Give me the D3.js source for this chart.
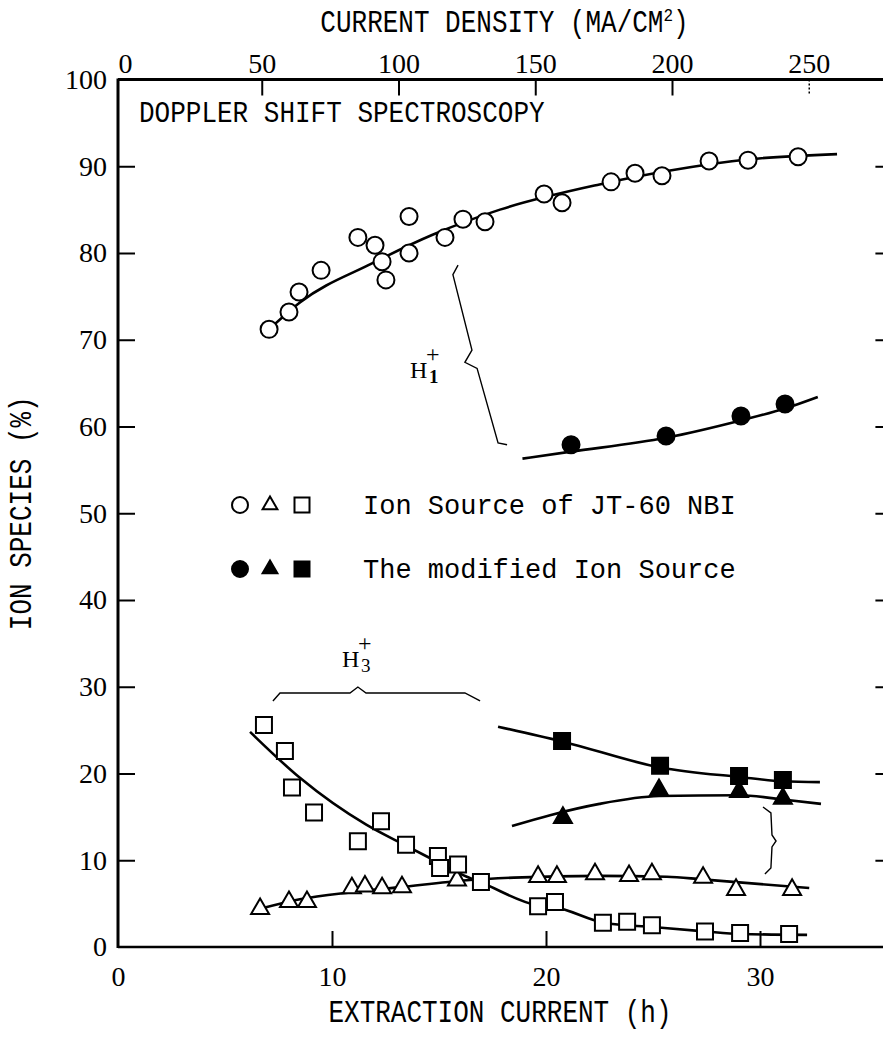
<!DOCTYPE html>
<html><head><meta charset="utf-8">
<script src="https://cdn.jsdelivr.net/npm/d3@7"></script>
<style>
html,body{margin:0;padding:0;background:#fff;}
svg{display:block;background:#fff;}
</style></head><body>
<svg id="chart" width="883" height="1043"></svg>
<script>
// ---- Measured points: extraction current (A) vs ion species fraction (%) ----
// H1+ , original JT-60 NBI ion source (open circles)
const h1OrigX = [7.06, 7.99, 8.46, 9.49, 11.21, 12.01, 12.34, 12.52, 13.60, 13.60, 15.28, 16.12, 17.15, 19.91, 20.75, 23.04, 24.16, 25.42, 27.62, 29.44, 31.78];
const h1OrigY = [71.2, 73.2, 75.5, 78.0, 81.8, 80.9, 79.0, 76.9, 80.0, 84.2, 81.8, 83.9, 83.6, 86.8, 85.8, 88.2, 89.2, 88.9, 90.6, 90.7, 91.1];
// H2+ , original source (open triangles)
const h2OrigX = [6.64, 7.99, 8.83, 10.93, 11.54, 12.34, 13.27, 15.84, 19.63, 20.51, 22.29, 23.88, 24.95, 27.34, 28.88, 31.50];
const h2OrigY = [4.4, 5.2, 5.2, 6.8, 7.0, 6.8, 6.9, 7.7, 8.1, 8.1, 8.4, 8.2, 8.4, 8.0, 6.6, 6.6];
// H3+ , original source (open squares)
const h3OrigX = [6.82, 7.80, 8.13, 9.16, 11.21, 12.29, 13.46, 14.95, 15.05, 15.89, 16.96, 19.63, 20.42, 22.66, 23.79, 24.95, 27.43, 29.07, 31.36];
const h3OrigY = [25.6, 22.6, 18.4, 15.5, 12.2, 14.5, 11.8, 10.5, 9.1, 9.5, 7.5, 4.7, 5.2, 2.8, 2.9, 2.5, 1.8, 1.6, 1.5];
// Modified ion source (filled markers)
const h1ModX = [21.17, 25.61, 29.11, 31.17];
const h1ModY = [57.9, 58.9, 61.2, 62.6];
const h2ModX = [20.79, 25.28, 29.02, 31.07];
const h2ModY = [14.9, 18.1, 17.9, 17.1];
const h3ModX = [20.75, 25.33, 29.02, 31.07];
const h3ModY = [23.75, 20.9, 19.7, 19.25];

// ---- Hand-drawn trend curves ----
const h1OrigFit = [[7.06,71.2],[8.5,74.3],[11.87,78.8],[14.7,82.1],[17.85,85.0],[22.5,87.9],[25.8,89.5],[29.5,90.8],[33.6,91.4]];
const h2OrigFit = [[6.64,4.4],[8.5,5.5],[10.84,6.3],[13.18,6.9],[16.3,7.7],[18.5,8.0],[22.5,8.2],[25.65,8.1],[27.3,7.8],[32.3,6.8]];
const h3OrigFit = [[6.17,24.8],[8.5,19.5],[11.6,14.1],[13.2,12.0],[14.7,10.1],[16.3,8.1],[17.0,7.4],[19.6,4.8],[20.4,4.6],[22.7,2.8],[25.0,2.3],[27.4,1.8],[29.1,1.5],[32.2,1.4]];
const h1ModFit = [[18.9,56.3],[21.17,57.1],[25.6,58.7],[29.1,60.7],[31.2,62.1],[32.7,63.4]];
const h2ModFit = [[18.41,13.95],[20.19,15.2],[22.5,16.5],[25.28,17.4],[29.02,17.5],[31.07,17.0],[32.85,16.5]];
const h3ModFit = [[17.76,25.4],[20.75,23.7],[25.33,20.7],[29.02,19.6],[31.07,19.1],[32.8,19.0]];

// ---- Axis ticks ----
const bottomTicks = [0, 10, 20, 30];
const leftTicks = [0, 10, 20, 30, 40, 50, 60, 70, 80, 90, 100];
const rightTicks = [10, 20, 30, 40, 50, 60, 70, 80, 90];
const topTicks = [0, 50, 100, 150, 200, 250];

// ---- Annotation braces (data units) ----
const braceH1 = [[15.89,78.6],[15.65,77.5],[16.54,68.8],[16.21,67.4],[16.78,66.7],[17.76,58.1],[18.18,57.9]];
const braceH3 = [[7.24,28.36],[7.57,29.28],[10.84,29.28],[11.21,29.97],[11.59,29.28],[16.21,29.28],[16.92,28.36]];
const braceRight = [[30.14,16.14],[30.51,15.45],[30.56,12.91],[30.75,12.22],[30.56,11.53],[30.51,9.11],[30.23,8.41]];

const svg = d3.select("#chart");
const x = d3.scaleLinear().domain([0, 36]).range([118, 888.4]);
const y = d3.scaleLinear().domain([0, 100]).range([947, 79.5]);
const xTop = d3.scaleLinear().domain([0, 280]).range([125, 890.8]);

const serif = "'Liberation Serif','DejaVu Serif',serif";
const mono = "'Liberation Mono','DejaVu Sans Mono',monospace";

function styleAxis(g) {
  g.select(".domain").remove();
  g.selectAll(".tick line").attr("stroke", "#000").attr("stroke-width", 2);
  g.selectAll(".tick text").attr("fill", "#000").style("font-family", serif).style("font-size", "28px");
}

// Frame lines
const frame = svg.append("g").attr("stroke", "#000").attr("fill", "none");
frame.append("line").attr("x1", x(0)).attr("x2", x(0)).attr("y1", y(100) - 1).attr("y2", y(0) + 1).attr("stroke-width", 3);
frame.append("line").attr("x1", x(0)).attr("x2", 883).attr("y1", y(100)).attr("y2", y(100)).attr("stroke-width", 3);
frame.append("line").attr("x1", x(0)).attr("x2", 883).attr("y1", y(0)).attr("y2", y(0)).attr("stroke-width", 2.5);

// Axes
svg.append("g").attr("transform", `translate(0,${y(0)})`)
  .call(d3.axisBottom(x).tickValues(bottomTicks).tickSize(-16).tickSizeOuter(0).tickPadding(19).tickFormat(d3.format("d")))
  .call(styleAxis)
  .call(g => g.selectAll(".tick").filter(d => d === 0).select("line").remove());

svg.append("g").attr("transform", `translate(${x(0)},0)`)
  .call(d3.axisLeft(y).tickValues(leftTicks).tickSize(-17).tickSizeOuter(0).tickPadding(11).tickFormat(d3.format("d")))
  .call(styleAxis)
  .call(g => g.selectAll(".tick").filter(d => d === 0 || d === 100).select("line").remove());

svg.append("g").attr("transform", `translate(${x(36)},0)`)
  .call(d3.axisRight(y).tickValues(rightTicks).tickSize(-13).tickSizeOuter(0).tickFormat(""))
  .call(styleAxis);

svg.append("g").attr("transform", `translate(0,${y(100)})`)
  .call(d3.axisTop(xTop).tickValues(topTicks).tickSize(-16).tickSizeOuter(0).tickPadding(7).tickFormat(d3.format("d")))
  .call(styleAxis)
  .call(g => g.selectAll(".tick").filter(d => d === 0).select("line").remove())
  .call(g => g.selectAll(".tick").filter(d => d === 250).select("line").attr("stroke-width", 1.5).attr("stroke-dasharray", "2,2"));

// Axis titles (tall, narrow typewriter lettering)
const topTitle = svg.append("text").attr("transform", `translate(${(x(0) + 883) / 2 + 4},32) scale(1,1.2)`)
  .attr("text-anchor", "middle")
  .style("font-family", mono).style("font-size", "26px").attr("fill", "#000");
topTitle.append("tspan").text("CURRENT DENSITY (MA/CM");
topTitle.append("tspan").attr("dy", -9).style("font-size", "16px").text("2");
topTitle.append("tspan").attr("dy", 9).text(")");

svg.append("text").attr("transform", "translate(500,1022) scale(1,1.2)").attr("text-anchor", "middle")
  .style("font-family", mono).style("font-size", "26px").attr("fill", "#000")
  .text("EXTRACTION CURRENT (h)");

svg.append("text").attr("transform", `translate(31,${y(50)}) rotate(-90) scale(1,1.2)`).attr("text-anchor", "middle")
  .style("font-family", mono).style("font-size", "26px").attr("fill", "#000")
  .text("ION SPECIES (%)");

svg.append("text").attr("transform", "translate(139,122) scale(1,1.1)")
  .style("font-family", mono).style("font-size", "26px").attr("fill", "#000")
  .text("DOPPLER SHIFT SPECTROSCOPY");

// Trend curves
const line = d3.line().x(d => x(d[0])).y(d => y(d[1])).curve(d3.curveMonotoneX);
const curves = svg.append("g").attr("fill", "none").attr("stroke", "#000").attr("stroke-width", 2.6);
[h1OrigFit, h2OrigFit, h3OrigFit, h1ModFit, h2ModFit, h3ModFit].forEach(c => curves.append("path").attr("d", line(c)));

// Braces
const braceLine = d3.line().x(d => x(d[0])).y(d => y(d[1]));
const braces = svg.append("g").attr("fill", "none").attr("stroke", "#000").attr("stroke-width", 1.4);
[braceH1, braceH3, braceRight].forEach(b => braces.append("path").attr("d", braceLine(b)));

// Markers
const shapes = {
  circle: d3.symbol().type(d3.symbolCircle).size(Math.PI * 8.5 * 8.5),
  triangle: d3.symbol().type(d3.symbolTriangle).size(140),
  square: d3.symbol().type(d3.symbolSquare).size(256)
};
function drawSeries(xs, ys, shape, filled) {
  svg.append("g").selectAll("path").data(xs.map((v, i) => [v, ys[i]])).join("path")
    .attr("transform", d => `translate(${x(d[0])},${y(d[1])})`)
    .attr("d", shapes[shape]())
    .attr("fill", filled ? "#000" : "#fff")
    .attr("stroke", "#000").attr("stroke-width", 2);
}
drawSeries(h1OrigX, h1OrigY, "circle", false);
drawSeries(h2OrigX, h2OrigY, "triangle", false);
drawSeries(h3OrigX, h3OrigY, "square", false);
drawSeries(h1ModX, h1ModY, "circle", true);
drawSeries(h2ModX, h2ModY, "triangle", true);
drawSeries(h3ModX, h3ModY, "square", true);

// Species labels
function speciesLabel(px, py, sub) {
  const g = svg.append("g").attr("transform", `translate(${px},${py})`).attr("fill", "#000").style("font-family", serif);
  g.append("text").attr("x", 0).attr("y", 0).style("font-size", "24px").text("H");
  g.append("text").attr("x", 19).attr("y", 5).style("font-size", "19px").style("font-weight", sub === "1" ? "bold" : "normal").text(sub);
  g.append("text").attr("x", 16).attr("y", -16).style("font-size", "24px").text("+");
}
speciesLabel(x(13.64), y(65.6), "1");
speciesLabel(x(10.47), y(32.3), "3");

// Legend
const legendRows = [
  { label: "Ion Source of JT-60 NBI", filled: false, y: 505 },
  { label: "The modified Ion Source", filled: true, y: 569 }
];
const legendShapes = [
  { type: "circle", dx: 240, size: Math.PI * 8 * 8 },
  { type: "triangle", dx: 270, size: 95 },
  { type: "square", dx: 302, size: 225 }
];
const symTypes = { circle: d3.symbolCircle, triangle: d3.symbolTriangle, square: d3.symbolSquare };
legendRows.forEach(r => {
  legendShapes.forEach(s => {
    svg.append("path")
      .attr("transform", `translate(${s.dx},${r.y})`)
      .attr("d", d3.symbol().type(symTypes[s.type]).size(s.size)())
      .attr("fill", r.filled ? "#000" : "#fff").attr("stroke", "#000").attr("stroke-width", 2);
  });
  svg.append("text").attr("x", 363).attr("y", r.y + 9)
    .style("font-family", mono).style("font-size", "27px").attr("fill", "#000").text(r.label);
});
</script>
</body></html>
